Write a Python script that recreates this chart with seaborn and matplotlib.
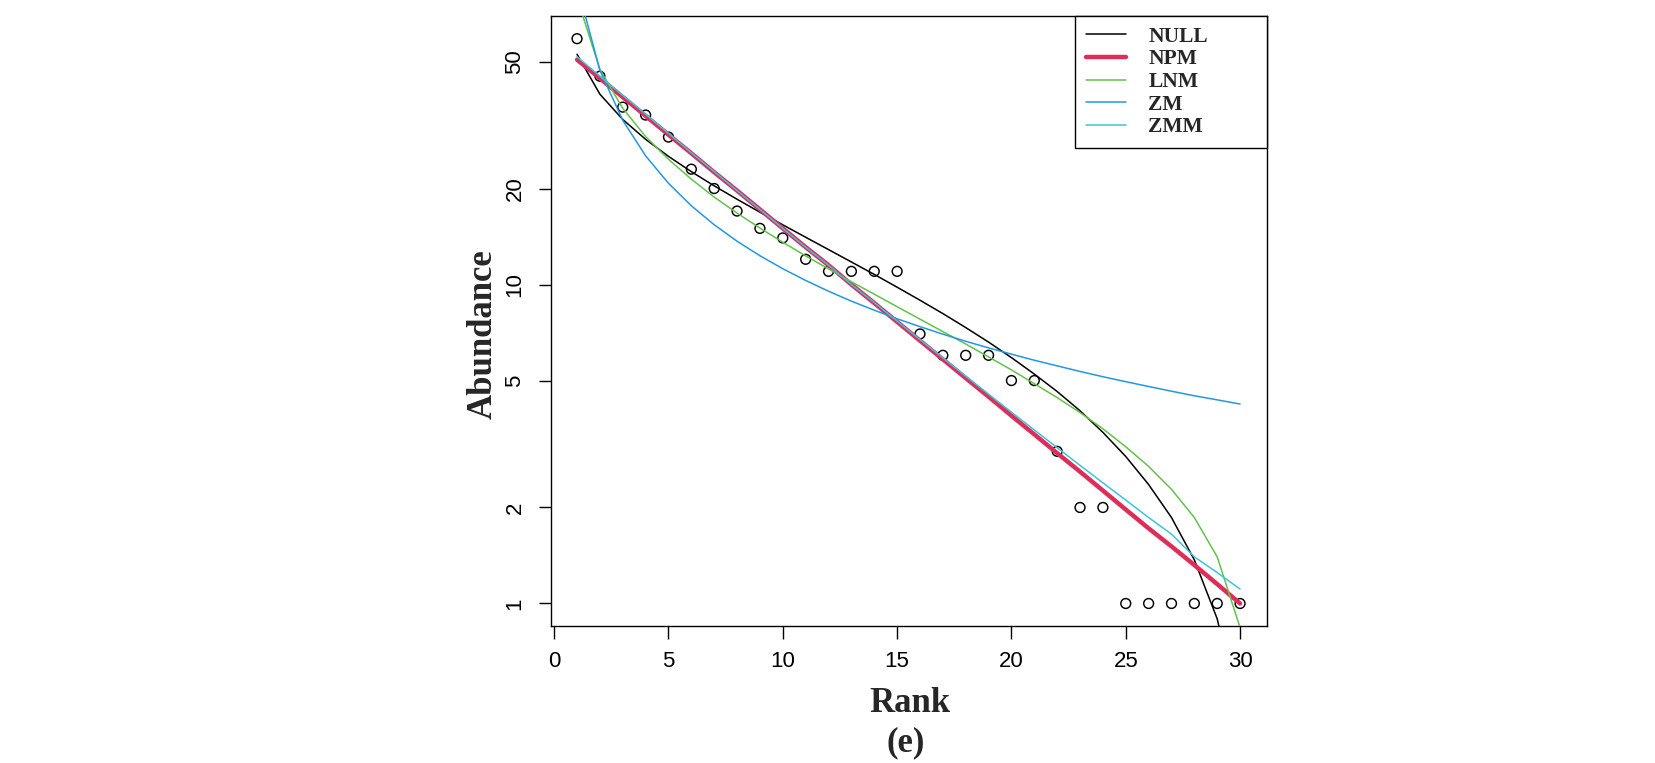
import numpy as np
import pandas as pd
import matplotlib
matplotlib.use("Agg")
import matplotlib.pyplot as plt
import seaborn as sns

# ---------------- data ----------------
rank = list(range(1, 31))
abundance = [59, 45, 36, 34, 29, 23, 20, 17, 15, 14, 12, 11, 11, 11, 11,
             7, 6, 6, 6, 5, 5, 3, 2, 2, 1, 1, 1, 1, 1, 1]

null_fit = [52.73, 39.53, 32.93, 28.53, 25.23, 22.59, 20.39, 18.51, 16.86, 15.39,
            14.07, 12.87, 11.77, 10.76, 9.81, 8.93, 8.11, 7.33, 6.60, 5.90,
            5.24, 4.62, 4.02, 3.44, 2.89, 2.36, 1.86, 1.37, 0.895, 0.44]
npm_fit = [50.7, 44.3, 38.7, 33.8, 29.5, 25.8, 22.5, 19.7, 17.2, 15.0,
           13.1, 11.5, 10.0, 8.75, 7.64, 6.67, 5.83, 5.09, 4.45, 3.88,
           3.39, 2.96, 2.59, 2.26, 1.97, 1.72, 1.51, 1.32, 1.15, 1.00]
lnm_fit = [79.3, 47.3, 35.7, 29.1, 24.7, 21.4, 18.8, 16.75, 15.04, 13.57,
           12.30, 11.20, 10.20, 9.33, 8.52, 7.79, 7.12, 6.51, 5.93, 5.40,
           4.89, 4.42, 3.97, 3.53, 3.10, 2.69, 2.28, 1.86, 1.40, 0.84]
zm_fit = [87.0, 46.95, 32.72, 25.33, 20.77, 17.66, 15.40, 13.67, 12.31, 11.21,
          10.30, 9.53, 8.87, 8.31, 7.81, 7.38, 6.99, 6.64, 6.33, 6.05,
          5.79, 5.56, 5.34, 5.14, 4.96, 4.79, 4.63, 4.48, 4.35, 4.22]
zmm_fit = [51.8, 45.0, 39.2, 34.2, 29.8, 25.9, 22.6, 19.7, 17.2, 15.0,
           13.1, 11.5, 10.0, 8.78, 7.68, 6.72, 5.89, 5.16, 4.53, 3.98,
           3.50, 3.08, 2.71, 2.39, 2.11, 1.86, 1.65, 1.40, 1.25, 1.11]

model_names = ["NULL", "NPM", "LNM", "ZM", "ZMM"]
model_colors = ["#000000", "#DD2E5A", "#62C24A", "#2297E6", "#3CC3DD"]

x_ticks = [0, 5, 10, 15, 20, 25, 30]
y_ticks = [1, 2, 5, 10, 20, 50]

# ---------------- figure ----------------
sns.set_theme(style="white")
plt.rcParams["font.family"] = ["Liberation Sans", "DejaVu Sans"]

W, H = 1655, 763
fig = plt.figure(figsize=(W / 100, H / 100), dpi=100)
ax_l, ax_r, ax_t, ax_b = 550.5, 1266.6, 16.0, 626.0
ax = fig.add_axes([ax_l / W, 1 - ax_b / H, (ax_r - ax_l) / W, (ax_b - ax_t) / H])

pts = pd.DataFrame({"Rank": rank, "Abundance": abundance})
sns.scatterplot(data=pts, x="Rank", y="Abundance", ax=ax, s=50,
                facecolor="none", edgecolor="black", linewidth=1.05,
                marker="o", zorder=2)

fits = [null_fit, npm_fit, lnm_fit, zm_fit, zmm_fit]
widths = [1.1, 3.2, 1.1, 1.1, 1.1]
for name, col, vals, lw in zip(model_names, model_colors, fits, widths):
    sns.lineplot(x=rank, y=vals, ax=ax, color=col, linewidth=lw,
                 label=name, zorder=3)

ax.set_yscale("log")
ax.set_xlim(-0.16, 31.16)
ax.set_ylim(0.850, 69.5)
ax.set_xticks(x_ticks)
ax.set_xticklabels([str(t) for t in x_ticks])
ax.set_yticks(y_ticks)
ax.set_yticklabels([str(t) for t in y_ticks])
ax.minorticks_off()
ax.yaxis.set_minor_locator(matplotlib.ticker.NullLocator())

ax.tick_params(axis="both", which="major", direction="out", length=9,
               width=1.0, color="black", labelsize=16, labelcolor="black",
               left=True, bottom=True)
ax.tick_params(axis="x", pad=9)
ax.tick_params(axis="y", pad=9)
for lab in ax.get_yticklabels():
    lab.set_rotation(90)
    lab.set_va("center")
for lab in ax.get_xticklabels() + ax.get_yticklabels():
    lab.set_family(["Liberation Sans", "DejaVu Sans"])

for sp in ax.spines.values():
    sp.set_visible(True)
    sp.set_color("black")
    sp.set_linewidth(1.0)

ax.set_xlabel("")
ax.set_ylabel("")

serif = ["Liberation Serif", "DejaVu Serif"]
fig.text(910 / W, 1 - 712.5 / H, "Rank", ha="center", va="baseline",
         family=serif, fontweight="bold", fontsize=25)
fig.text(906 / W, 1 - 751.0 / H, "(e)", ha="center", va="baseline",
         family=serif, fontweight="bold", fontsize=25)
fig.text(492 / W, 1 - 334 / H, "Abundance", ha="center", va="baseline",
         rotation=90, rotation_mode="anchor",
         family=serif, fontweight="bold", fontsize=25)

handles, labels = ax.get_legend_handles_labels()
x0 = (1075 - ax_l) / (ax_r - ax_l)
leg = ax.legend(handles, labels, loc="upper right",
                bbox_to_anchor=(x0, 0.0, 1 - x0, 1.0), mode="expand",
                borderaxespad=0, fancybox=False, framealpha=1,
                edgecolor="black", handlelength=1.85, handletextpad=1.05,
                labelspacing=0.12, borderpad=0.5,
                prop={"family": serif, "weight": "bold", "size": 15.5})
leg.get_frame().set_linewidth(1.0)

fig.savefig("out.png", dpi=100)
